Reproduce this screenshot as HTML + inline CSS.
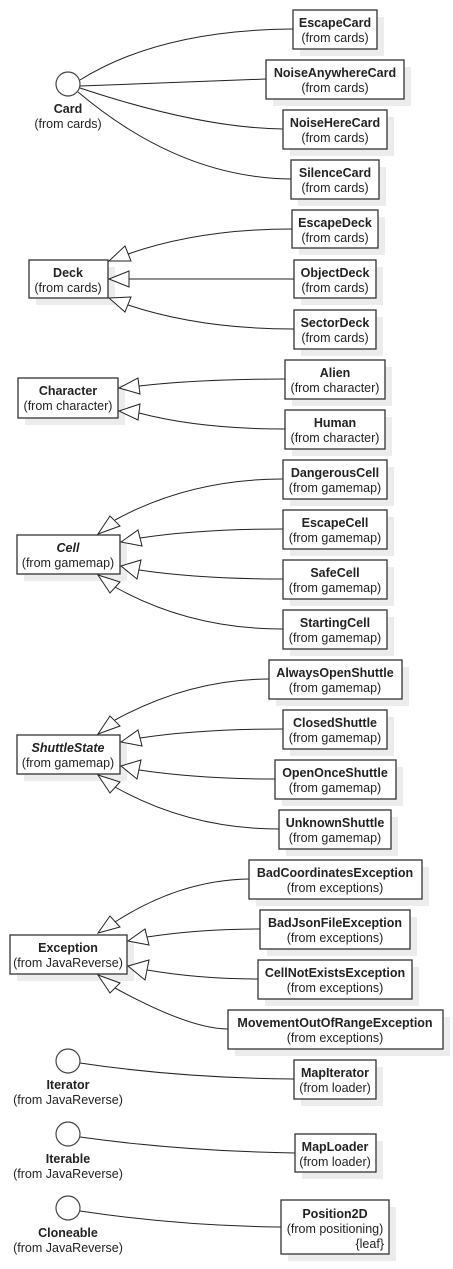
<!DOCTYPE html>
<html><head><meta charset="utf-8"><style>
body{margin:0;background:#fff}
svg{display:block}
text{font-family:"Liberation Sans",Arial,sans-serif;font-size:12.5px;fill:#222;text-anchor:middle}
.b{font-weight:bold}
.i{font-style:italic;font-weight:bold}
.box{fill:#fff;stroke:#333;stroke-width:1.3}
.sh{fill:#ececec}
.ln{fill:none;stroke:#222;stroke-width:1}
.ar{fill:#fff;stroke:#222;stroke-width:1}
.ci{fill:#fff;stroke:#444;stroke-width:1.2}
</style></head><body>
<svg width="453" height="1269" viewBox="0 0 453 1269" xmlns="http://www.w3.org/2000/svg">
<!-- connectors -->
<path class="ln" d="M80,80 Q160,30 293,29"/>
<path class="ln" d="M80,86 L266,79"/>
<path class="ln" d="M80,88 Q200,128 283,129"/>
<path class="ln" d="M78,92 Q180,178 291,179"/>

<path class="ln" d="M128,254 Q200,229 292,229"/>
<path class="ln" d="M129,279 L294,279"/>
<path class="ln" d="M128,305 Q200,329 294,329"/>

<path class="ln" d="M139,386 Q200,379 285,379"/>
<path class="ln" d="M139,413 Q200,429 285,429"/>

<path class="ln" d="M115,520 Q190,479 283,479"/>
<path class="ln" d="M140,538 Q200,529 283,529"/>
<path class="ln" d="M139,570 Q200,579 283,579"/>
<path class="ln" d="M115,587 Q190,629 283,629"/>

<path class="ln" d="M115,720 Q190,679 269,679"/>
<path class="ln" d="M140,738 Q200,729 283,729"/>
<path class="ln" d="M139,770 Q200,779 275,779"/>
<path class="ln" d="M115,787 Q190,829 279,829"/>

<path class="ln" d="M115,922 Q180,880 249,879"/>
<path class="ln" d="M147,937 Q200,929 260,929"/>
<path class="ln" d="M147,970 Q200,979 258,979"/>
<path class="ln" d="M115,988 Q190,1029 228,1029"/>

<path class="ln" d="M80,1063 Q180,1078 294,1079"/>
<path class="ln" d="M80,1137 Q180,1151 295,1153"/>
<path class="ln" d="M80,1211 Q180,1226 281,1227"/>

<!-- interfaces -->
<circle class="ci" cx="68" cy="84" r="12"/>
<text class="b" x="68" y="113">Card</text><text x="68" y="128">(from cards)</text>
<circle class="ci" cx="68" cy="1061" r="12"/>
<text class="b" x="68" y="1089">Iterator</text><text x="68" y="1104">(from JavaReverse)</text>
<circle class="ci" cx="68" cy="1134" r="12"/>
<text class="b" x="68" y="1163">Iterable</text><text x="68" y="1178">(from JavaReverse)</text>
<circle class="ci" cx="68" cy="1208" r="12"/>
<text class="b" x="68" y="1237">Cloneable</text><text x="68" y="1252">(from JavaReverse)</text>

<!-- boxes -->
<g>
<rect class="sh" x="300" y="17" width="84" height="39"/><rect class="box" x="293" y="10" width="84" height="39"/>
<text class="b" x="335" y="27">EscapeCard</text><text x="335" y="42">(from cards)</text>

<rect class="sh" x="273" y="67" width="138" height="39"/><rect class="box" x="266" y="60" width="138" height="39"/>
<text class="b" x="335" y="77">NoiseAnywhereCard</text><text x="335" y="92">(from cards)</text>

<rect class="sh" x="290" y="117" width="104" height="39"/><rect class="box" x="283" y="110" width="104" height="39"/>
<text class="b" x="335" y="127">NoiseHereCard</text><text x="335" y="142">(from cards)</text>

<rect class="sh" x="298" y="167" width="88" height="39"/><rect class="box" x="291" y="160" width="88" height="39"/>
<text class="b" x="335" y="177">SilenceCard</text><text x="335" y="192">(from cards)</text>

<rect class="sh" x="299" y="217" width="86" height="38"/><rect class="box" x="292" y="210" width="86" height="38"/>
<text class="b" x="335" y="227">EscapeDeck</text><text x="335" y="242">(from cards)</text>

<rect class="sh" x="301" y="267" width="82" height="38"/><rect class="box" x="294" y="260" width="82" height="38"/>
<text class="b" x="335" y="277">ObjectDeck</text><text x="335" y="292">(from cards)</text>

<rect class="sh" x="301" y="317" width="82" height="39"/><rect class="box" x="294" y="310" width="82" height="39"/>
<text class="b" x="335" y="327">SectorDeck</text><text x="335" y="342">(from cards)</text>

<rect class="sh" x="36" y="267" width="79" height="38"/><rect class="box" x="29" y="260" width="79" height="38"/>
<text class="b" x="68" y="277">Deck</text><text x="68" y="292">(from cards)</text>

<rect class="sh" x="25" y="385" width="100" height="40"/><rect class="box" x="18" y="378" width="100" height="40"/>
<text class="b" x="68" y="395">Character</text><text x="68" y="410">(from character)</text>

<rect class="sh" x="292" y="367" width="100" height="39"/><rect class="box" x="285" y="360" width="100" height="39"/>
<text class="b" x="335" y="377">Alien</text><text x="335" y="392">(from character)</text>

<rect class="sh" x="292" y="417" width="100" height="39"/><rect class="box" x="285" y="410" width="100" height="39"/>
<text class="b" x="335" y="427">Human</text><text x="335" y="442">(from character)</text>

<rect class="sh" x="290" y="467" width="104" height="39"/><rect class="box" x="283" y="460" width="104" height="39"/>
<text class="b" x="335" y="477">DangerousCell</text><text x="335" y="492">(from gamemap)</text>

<rect class="sh" x="290" y="517" width="104" height="39"/><rect class="box" x="283" y="510" width="104" height="39"/>
<text class="b" x="335" y="527">EscapeCell</text><text x="335" y="542">(from gamemap)</text>

<rect class="sh" x="290" y="567" width="104" height="39"/><rect class="box" x="283" y="560" width="104" height="39"/>
<text class="b" x="335" y="577">SafeCell</text><text x="335" y="592">(from gamemap)</text>

<rect class="sh" x="290" y="617" width="104" height="39"/><rect class="box" x="283" y="610" width="104" height="39"/>
<text class="b" x="335" y="627">StartingCell</text><text x="335" y="642">(from gamemap)</text>

<rect class="sh" x="24" y="542" width="103" height="39"/><rect class="box" x="17" y="535" width="103" height="39"/>
<text class="i" x="68" y="552">Cell</text><text x="68" y="567">(from gamemap)</text>

<rect class="sh" x="276" y="667" width="133" height="39"/><rect class="box" x="269" y="660" width="133" height="39"/>
<text class="b" x="335" y="677">AlwaysOpenShuttle</text><text x="335" y="692">(from gamemap)</text>

<rect class="sh" x="290" y="717" width="104" height="39"/><rect class="box" x="283" y="710" width="104" height="39"/>
<text class="b" x="335" y="727">ClosedShuttle</text><text x="335" y="742">(from gamemap)</text>

<rect class="sh" x="282" y="767" width="121" height="39"/><rect class="box" x="275" y="760" width="121" height="39"/>
<text class="b" x="335" y="777">OpenOnceShuttle</text><text x="335" y="792">(from gamemap)</text>

<rect class="sh" x="286" y="817" width="112" height="39"/><rect class="box" x="279" y="810" width="112" height="39"/>
<text class="b" x="335" y="827">UnknownShuttle</text><text x="335" y="842">(from gamemap)</text>

<rect class="sh" x="24" y="742" width="103" height="39"/><rect class="box" x="17" y="735" width="103" height="39"/>
<text class="i" x="68" y="752">ShuttleState</text><text x="68" y="767">(from gamemap)</text>

<rect class="sh" x="256" y="867" width="173" height="39"/><rect class="box" x="249" y="860" width="173" height="39"/>
<text class="b" x="335" y="877">BadCoordinatesException</text><text x="335" y="892">(from exceptions)</text>

<rect class="sh" x="267" y="917" width="150" height="39"/><rect class="box" x="260" y="910" width="150" height="39"/>
<text class="b" x="335" y="927">BadJsonFileException</text><text x="335" y="942">(from exceptions)</text>

<rect class="sh" x="265" y="967" width="154" height="39"/><rect class="box" x="258" y="960" width="154" height="39"/>
<text class="b" x="335" y="977">CellNotExistsException</text><text x="335" y="992">(from exceptions)</text>

<rect class="sh" x="235" y="1017" width="215" height="39"/><rect class="box" x="228" y="1010" width="215" height="39"/>
<text class="b" x="335" y="1027">MovementOutOfRangeException</text><text x="335" y="1042">(from exceptions)</text>

<rect class="sh" x="17" y="942" width="117" height="39"/><rect class="box" x="10" y="935" width="117" height="39"/>
<text class="b" x="68" y="952">Exception</text><text x="68" y="967">(from JavaReverse)</text>

<rect class="sh" x="301" y="1067" width="82" height="39"/><rect class="box" x="294" y="1060" width="82" height="39"/>
<text class="b" x="335" y="1077">MapIterator</text><text x="335" y="1092">(from loader)</text>

<rect class="sh" x="302" y="1141" width="81" height="38"/><rect class="box" x="295" y="1134" width="81" height="38"/>
<text class="b" x="335" y="1151">MapLoader</text><text x="335" y="1166">(from loader)</text>

<rect class="sh" x="288" y="1207" width="108" height="54"/><rect class="box" x="281" y="1200" width="108" height="54"/>
<text class="b" x="335" y="1218">Position2D</text><text x="335" y="1233">(from positioning)</text>
<text x="384" y="1248" style="text-anchor:end">{leaf}</text>
</g>

<!-- arrowheads (on top) -->
<polygon class="ar" points="109,261 125,246 131,261"/>
<polygon class="ar" points="109,279 129,271 129,287"/>
<polygon class="ar" points="109,298 131,297 125,312"/>
<polygon class="ar" points="119,388 138,378 140,394"/>
<polygon class="ar" points="119,411 140,404 138,420"/>
<polygon class="ar" points="98,534 110,516 120,526"/>
<polygon class="ar" points="121,542 138,530 142,546"/>
<polygon class="ar" points="121,566 141,560 137,579"/>
<polygon class="ar" points="98,575 120,582 110,593"/>
<polygon class="ar" points="98,734 110,716 120,726"/>
<polygon class="ar" points="121,742 138,730 142,746"/>
<polygon class="ar" points="121,766 141,760 137,779"/>
<polygon class="ar" points="98,775 120,782 110,793"/>
<polygon class="ar" points="98,933 110,916 120,927"/>
<polygon class="ar" points="128,941 145,929 149,945"/>
<polygon class="ar" points="128,966 149,960 145,980"/>
<polygon class="ar" points="98,975 120,983 110,993"/>
</svg>
</body></html>
